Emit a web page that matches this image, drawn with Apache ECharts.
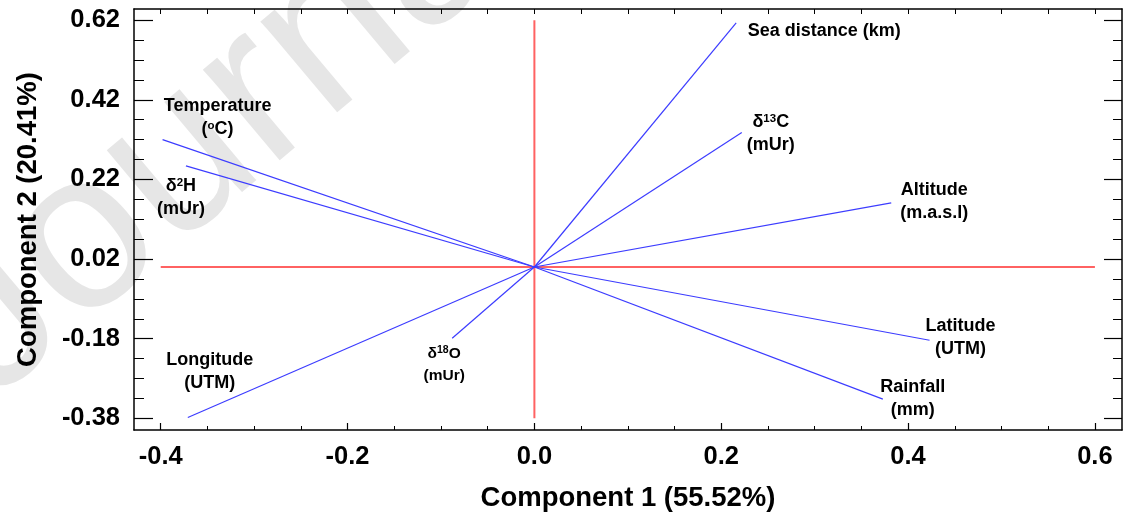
<!DOCTYPE html>
<html>
<head>
<meta charset="utf-8">
<script src="https://cdn.jsdelivr.net/npm/echarts@6/dist/echarts.min.js"></script>
<style>
html,body{margin:0;padding:0;background:#fff;}
#biplot{width:1123px;height:517px;}
</style>
</head>
<body>
<div id="biplot"></div>
<script>
// loadings of each variable on the two components
var varNames = ['Sea distance', 'd13C', 'Altitude', 'Latitude', 'Rainfall', 'Longitude', 'd18O', 'Temperature', 'd2H'];
var comp1 = [0.216, 0.222, 0.382, 0.423, 0.373, -0.371, -0.088, -0.398, -0.373];
var comp2 = [0.613, 0.338, 0.161, -0.184, -0.332, -0.378, -0.179, 0.320, 0.254];
var varLabels = [
    'Sea distance (km)',
    '{t|δ}{s|13}{t|C}\n(mUr)',
    'Altitude\n(m.a.s.l)',
    'Latitude\n(UTM)',
    'Rainfall\n(mm)',
    'Longitude\n(UTM)',
    '{u|δ}{v|18}{u|O}\n(mUr)',
    'Temperature\n({s|o}C)',
    '{t|δ}{s|2}{t|H}\n(mUr)'
];
var xTicks = [-0.4, -0.2, 0.0, 0.2, 0.4, 0.6];
var yTicks = [-0.38, -0.18, 0.02, 0.22, 0.42, 0.62];
var xTitle = 'Component 1 (55.52%)';
var yTitle = 'Component 2 (20.41%)';

var xMin = -0.4286, xMax = 0.629;
var yMin = -0.4094, yMax = 0.648;

// label placement (offset of label centre from the arrow tip, px)
var labelPlace = {
    'Sea distance': [88, 8],
    'd13C': [29, 1],
    'Altitude': [43, -1],
    'Latitude': [31, -3],
    'Rainfall': [30, -1],
    'Longitude': [22, -46],
    'd18O': [-8, 26],
    'Temperature': [55, -22],
    'd2H': [-5, 32]
};

var font = 'Liberation Sans, Arial, sans-serif';

function minorList(from, to, step){
    var arr = [];
    for (var v = from; v <= to + 1e-9; v += step) arr.push(Math.round(v * 1000) / 1000);
    return arr;
}
var xMinor = minorList(xTicks[0], xTicks[xTicks.length - 1], 0.05);
var yMinor = minorList(yTicks[0], yTicks[yTicks.length - 1], 0.05);

function valAxis(extra){
    var base = {
        type: 'value',
        axisLine: {show: false, onZero: false},
        axisTick: {show: false},
        axisLabel: {show: false},
        splitLine: {show: false}
    };
    return Object.assign(base, extra);
}

var chart = echarts.init(document.getElementById('biplot'));

var series = [];
// red reference axes
series.push({
    type: 'line', silent: true, symbol: 'none', animation: false, z: 1,
    lineStyle: {color: '#ff6262', width: 2},
    data: [[xTicks[0], 0], [xTicks[xTicks.length - 1], 0]]
});
series.push({
    type: 'line', silent: true, symbol: 'none', animation: false, z: 1,
    lineStyle: {color: '#ff6262', width: 2},
    data: [[0, yTicks[0]], [0, yTicks[yTicks.length - 1]]]
});
// loading vectors
varNames.forEach(function(n, i){
    series.push({
        type: 'line', silent: true, symbol: 'none', animation: false, z: 3,
        lineStyle: {color: '#3c3cff', width: 1.2},
        data: [[0, 0], [comp1[i], comp2[i]]]
    });
});
// labels at the tips
series.push({
    type: 'scatter', silent: true, animation: false, symbolSize: 0, z: 4,
    itemStyle: {color: '#000', opacity: 1},
    data: varNames.map(function(n, i){
        return {
            value: [comp1[i], comp2[i]],
            label: {
                show: true,
                position: 'inside',
                offset: labelPlace[n],
                formatter: varLabels[i],
                fontSize: n === 'd18O' ? 15.5 : 18,
                lineHeight: n === 'd18O' ? 22 : 23
            }
        };
    }),
    label: {
        color: '#000',
        opacity: 1,
        textBorderWidth: 0,
        textBorderColor: 'transparent',
        fontWeight: 'bold',
        fontFamily: font,
        align: 'center',
        verticalAlign: 'middle',
        rich: {
            t: {color: '#000', fontSize: 18, lineHeight: 23},
            s: {color: '#000', fontSize: 11.5, verticalAlign: 'top', padding: [2, 0, 0, 0]},
            u: {color: '#000', fontSize: 15.5, lineHeight: 22},
            v: {color: '#000', fontSize: 10.5, verticalAlign: 'top', padding: [2, 0, 0, 0]}
        }
    }
});

var option = {
    backgroundColor: '#fff',
    animation: false,
    grid: {left: 134, right: 1, top: 9, bottom: 87, containLabel: false, outerBoundsMode: 'none'},
    graphic: {
        elements: [{
            type: 'text', x: -50, y: 356, rotation: Math.PI * 40 / 180, z: 0, silent: true,
            style: {text: 'Journal Pre-proof', fontSize: 225, fontFamily: font, fill: '#e6e6e6', align: 'left', verticalAlign: 'middle'}
        }]
    },
    xAxis: [
        valAxis({
            min: xMin, max: xMax, position: 'bottom',
            name: xTitle, nameLocation: 'middle', nameGap: 54,
            nameTextStyle: {fontSize: 27.5, fontWeight: 'bold', fontFamily: font, color: '#000'},
            axisLine: {show: true, onZero: false, lineStyle: {color: '#000', width: 1.5}},
            axisTick: {show: true, inside: true, length: 7, customValues: xTicks, lineStyle: {color: '#000', width: 1.2}},
            axisLabel: {show: true, customValues: xTicks, margin: 14, fontSize: 25.5, fontWeight: 'bold', fontFamily: font, color: '#000',
                formatter: function(v){ return v.toFixed(1); }}
        }),
        valAxis({
            min: xMin, max: xMax, position: 'bottom',
            axisTick: {show: true, inside: true, length: 4, customValues: xMinor, lineStyle: {color: '#000', width: 1}}
        }),
        valAxis({
            min: xMin, max: xMax, position: 'top',
            axisLine: {show: true, onZero: false, lineStyle: {color: '#000', width: 1.5}},
            axisTick: {show: true, inside: true, length: 5, customValues: xMinor, lineStyle: {color: '#000', width: 1}}
        })
    ],
    yAxis: [
        valAxis({
            min: yMin, max: yMax, position: 'left',
            name: yTitle, nameLocation: 'middle', nameGap: 92, nameRotate: 90,
            nameTextStyle: {fontSize: 27.5, fontWeight: 'bold', fontFamily: font, color: '#000'},
            axisLine: {show: true, onZero: false, lineStyle: {color: '#000', width: 1.5}},
            axisTick: {show: true, inside: true, length: 19, customValues: yTicks, lineStyle: {color: '#000', width: 1.2}},
            axisLabel: {show: true, customValues: yTicks, margin: 14, fontSize: 25.5, fontWeight: 'bold', fontFamily: font, color: '#000',
                formatter: function(v){ return v.toFixed(2); }}
        }),
        valAxis({
            min: yMin, max: yMax, position: 'left',
            axisTick: {show: true, inside: true, length: 10, customValues: yMinor, lineStyle: {color: '#000', width: 1}}
        }),
        valAxis({
            min: yMin, max: yMax, position: 'right',
            axisLine: {show: true, onZero: false, lineStyle: {color: '#000', width: 1.5}},
            axisTick: {show: true, inside: true, length: 18, customValues: yTicks, lineStyle: {color: '#000', width: 1.2}}
        }),
        valAxis({
            min: yMin, max: yMax, position: 'right',
            axisTick: {show: true, inside: true, length: 9, customValues: yMinor, lineStyle: {color: '#000', width: 1}}
        })
    ],
    series: series
};

chart.setOption(option);
window.addEventListener('resize', function(){
    chart.resize();
});
</script>
</body>
</html>
